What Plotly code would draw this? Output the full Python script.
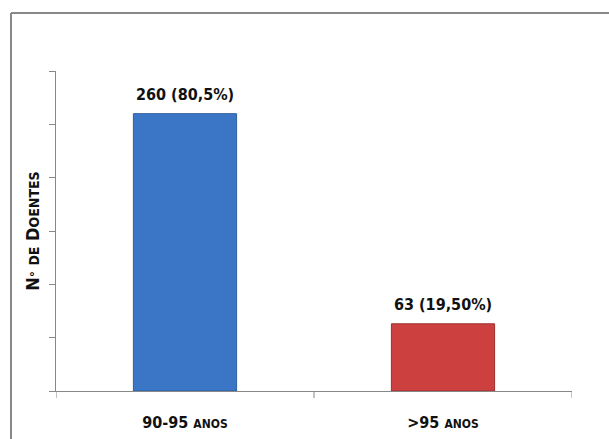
import plotly.graph_objects as go

categories = ["90-95", ">95"]
category_labels = ["90-95 <span style='font-size:12px'>ANOS</span>",
                   "&gt;95 <span style='font-size:12px'>ANOS</span>"]
values = [260, 63]
bar_labels = ["260 (80,5%)", "63 (19,50%)"]
bar_colors = ["#3b76c6", "#cc4040"]
bar_edges = ["#2f5f9e", "#9e2f2f"]

FONT = "DejaVu Sans Condensed, DejaVu Sans"

fig = go.Figure()
fig.add_trace(go.Bar(
    x=categories, y=values, width=0.4,
    marker=dict(color=bar_colors, line=dict(color=bar_edges, width=1)),
    hoverinfo="skip",
))

for c, v, t in zip(categories, values, bar_labels):
    fig.add_annotation(x=c, y=v, text=t, showarrow=False, yanchor="bottom",
                       yshift=8, font=dict(family=FONT, size=16, color="#111111", weight="bold"))

# outer frame (left and top edges only)
fig.add_shape(type="line", xref="paper", yref="paper",
              x0=-0.0872, x1=1.2, y0=1.18125, y1=1.18125,
              line=dict(color="#888888", width=2), layer="below")
fig.add_shape(type="line", xref="paper", yref="paper",
              x0=-0.0872, x1=-0.0872, y0=-0.3, y1=1.18125,
              line=dict(color="#888888", width=2), layer="below")

fig.update_layout(
    width=609, height=439,
    margin=dict(l=56, r=37, t=71, b=48),
    paper_bgcolor="white", plot_bgcolor="white",
    showlegend=False,
    font=dict(family=FONT, color="#111111"),
    xaxis=dict(
        tickmode="array", tickvals=categories, ticktext=category_labels,
        showline=True, linecolor="#888888", linewidth=1,
        ticks="", showgrid=False, zeroline=False,
        tickfont=dict(family=FONT, size=16, color="#111111", weight="bold"),
        ticklabelstandoff=17, automargin=False,
        range=[-0.5, 1.5],
    ),
    yaxis=dict(
        range=[0, 300], tickmode="linear", tick0=0, dtick=50,
        showticklabels=False, ticks="outside", ticklen=6, tickcolor="#888888",
        showline=True, linecolor="#888888", linewidth=1,
        showgrid=False, zeroline=False,
        title=dict(
            text="N<span style='font-size:13px'>°</span> <span style='font-size:14px'>DE</span> D<span style='font-size:14px'>OENTES</span>",
            font=dict(family=FONT, size=18, color="#111111", weight="bold"),
            standoff=4,
        ),
    ),
    bargap=0.6,
)

# category boundary ticks on the x axis
for xv in [-0.5, 0.5, 1.5]:
    fig.add_shape(type="line", xref="x", yref="paper", x0=xv, x1=xv, y0=0, y1=-0.022,
                  line=dict(color="#888888", width=1))

fig.write_html("out.html")
